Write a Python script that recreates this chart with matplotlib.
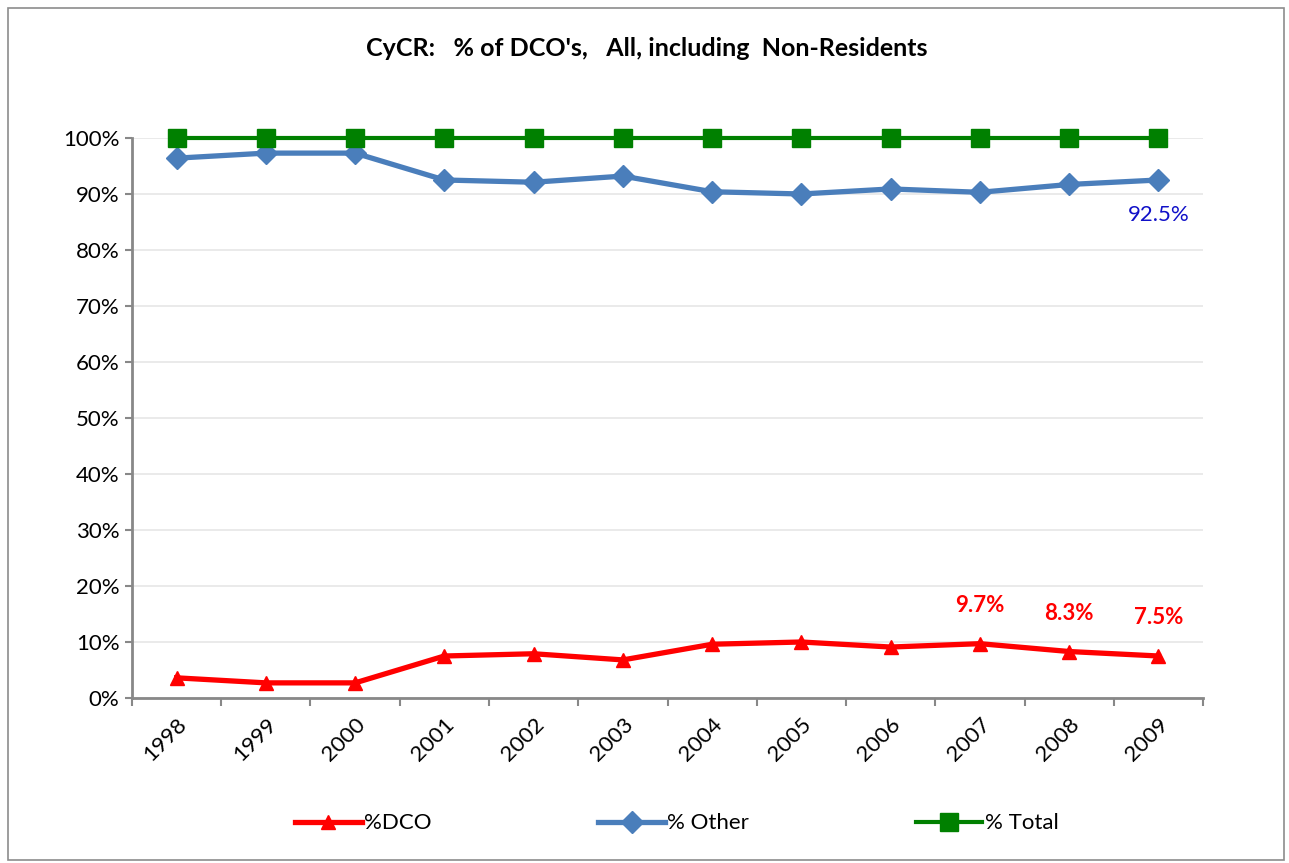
import matplotlib.pyplot as plt
import numpy as np
from matplotlib.patches import Rectangle
from matplotlib.ticker import FuncFormatter

plt.rcParams['font.family'] = ['Lato', 'DejaVu Sans']

# Data
years = ['1998', '1999', '2000', '2001', '2002', '2003',
         '2004', '2005', '2006', '2007', '2008', '2009']
pct_dco = [3.6, 2.7, 2.7, 7.5, 7.9, 6.8, 9.6, 10.0, 9.1, 9.7, 8.3, 7.5]
pct_other = [96.4, 97.3, 97.3, 92.5, 92.1, 93.2, 90.4, 90.0, 90.9, 90.3, 91.7, 92.5]
pct_total = [100, 100, 100, 100, 100, 100, 100, 100, 100, 100, 100, 100]

fig = plt.figure(figsize=(12.89, 8.63), dpi=100)
ax = fig.add_axes([0.1024, 0.1912, 0.8309, 0.6489])

# chart border
fig.patches.append(Rectangle((0.006, 0.003), 0.990, 0.988, transform=fig.transFigure,
                             fill=False, edgecolor='#8c8c8c', linewidth=1.2))

x = np.arange(len(years))
ax.plot(x, pct_dco, color='#ff0000', lw=3.8, marker='^', ms=10,
        label='%DCO', clip_on=False, zorder=3)
ax.plot(x, pct_other, color='#4a7ebb', lw=3.8, marker='D', ms=11,
        label='% Other', clip_on=False, zorder=3)
ax.plot(x, pct_total, color='#008000', lw=3.0, marker='s', ms=13,
        label='% Total', clip_on=False, zorder=4)

# data labels
for i in [9, 10, 11]:
    ax.annotate(f'{pct_dco[i]:.1f}%', (x[i], pct_dco[i]), xytext=(0, 20),
                textcoords='offset points', ha='center', va='bottom',
                color='#ff0000', fontsize=16, fontweight='bold')
ax.annotate(f'{pct_other[-1]:.1f}%', (x[-1], pct_other[-1]), xytext=(0, -18),
            textcoords='offset points', ha='center', va='top',
            color='#1010c8', fontsize=16)

ax.set_ylim(0, 100)
ax.set_xlim(-0.5, len(years) - 0.5)
ax.set_yticks(np.arange(0, 101, 10))
ax.yaxis.set_major_formatter(FuncFormatter(lambda v, _: f'{v:.0f}%'))
ax.set_xticks(x)
ax.set_xticklabels(years, rotation=45, ha='right', rotation_mode='anchor')
ax.set_xticks(np.arange(-0.5, len(years)), minor=True)
ax.tick_params(axis='x', which='major', length=0, labelsize=16, pad=12)
ax.tick_params(axis='x', which='minor', length=6, color='#888888', width=1.5)
ax.tick_params(axis='y', length=5, color='#888888', width=1.5, labelsize=16, pad=4)
ax.grid(axis='y', color='#e6e6e6', lw=1.2)
ax.set_axisbelow(True)
for s in ['top', 'right']:
    ax.spines[s].set_visible(False)
for s in ['left', 'bottom']:
    ax.spines[s].set_color('#888888')
    ax.spines[s].set_linewidth(2)

fig.text(0.502, 0.944, "CyCR:   % of DCO's,   All, including  Non-Residents",
         ha='center', va='center', fontsize=18, fontweight='bold')

fig.legend(loc='center', bbox_to_anchor=(0.525, 0.046), ncol=3, frameon=False,
           fontsize=16, columnspacing=7.5, handlelength=3.0, handletextpad=0.1)

fig.savefig('out.png', dpi=100)
